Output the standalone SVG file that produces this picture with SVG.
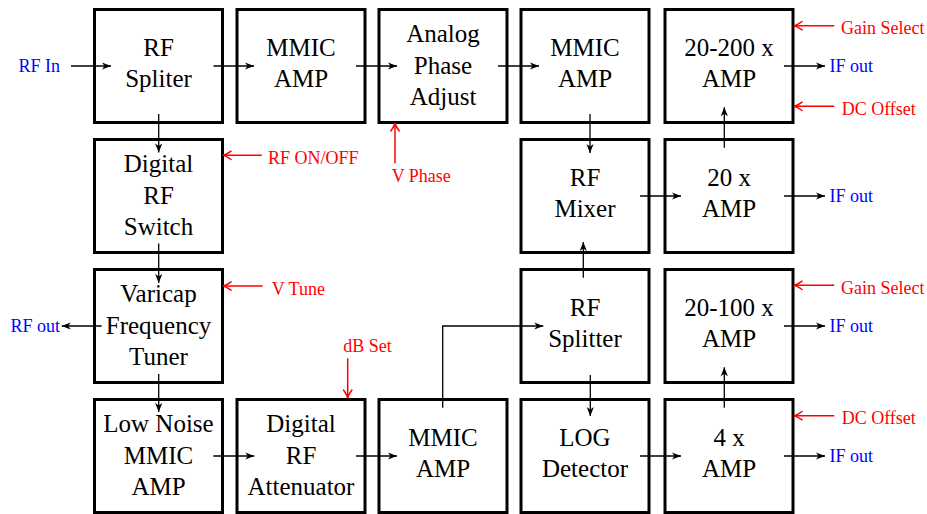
<svg xmlns="http://www.w3.org/2000/svg" width="927" height="514" viewBox="0 0 927 514">
<style>
.box{fill:#fff;stroke:#000;stroke-width:3}
.t{font-family:"Liberation Serif","Times New Roman",serif;font-size:25px;fill:#000;text-anchor:middle}
.s{font-family:"Liberation Serif","Times New Roman",serif;font-size:18px}
.b{fill:#0000ff}
.r{fill:#ff0000}
.c{fill:none;stroke:#000;stroke-width:1.3;marker-end:url(#ah)}
.rc{fill:none;stroke:#ff0000;stroke-width:1.5;marker-end:url(#rh)}
</style>
<defs>
<marker id="ah" viewBox="-10 -5 11 10" refX="0" refY="0" markerWidth="11" markerHeight="10" markerUnits="userSpaceOnUse" orient="auto">
<path d="M0,0 L-9,-3.6 L-6.5,0 L-9,3.6 Z" fill="#000"/>
</marker>
<marker id="rh" viewBox="-10 -6 11 12" refX="0" refY="0" markerWidth="11" markerHeight="12" markerUnits="userSpaceOnUse" orient="auto">
<path d="M-8,-4.2 Q-3,-0.6 0,0 Q-3,0.6 -8,4.2" fill="none" stroke="#ff0000" stroke-width="1.5" stroke-linecap="round"/>
</marker>
</defs>
<rect width="927" height="514" fill="#fff"/>

<g id="rf-spliter"><rect class="box" x="94.5" y="9.5" width="128" height="113"/><text class="t"><tspan x="158.5" y="56">RF</tspan><tspan x="158.5" y="87">Spliter</tspan></text></g>
<g id="mmic-amp-1"><rect class="box" x="237" y="9.5" width="128" height="113"/><text class="t"><tspan x="301" y="56">MMIC</tspan><tspan x="301" y="87">AMP</tspan></text></g>
<g id="analog-phase"><rect class="box" x="379" y="9.5" width="128" height="113"/><text class="t"><tspan x="443" y="42">Analog</tspan><tspan x="443" y="73.5">Phase</tspan><tspan x="443" y="105">Adjust</tspan></text></g>
<g id="mmic-amp-2"><rect class="box" x="521" y="9.5" width="128" height="113"/><text class="t"><tspan x="585" y="56">MMIC</tspan><tspan x="585" y="87">AMP</tspan></text></g>
<g id="amp-20-200"><rect class="box" x="665" y="9.5" width="128" height="113"/><text class="t"><tspan x="729" y="56">20-200 x</tspan><tspan x="729" y="87">AMP</tspan></text></g>

<g id="digital-rf-switch"><rect class="box" x="94.5" y="139.5" width="128" height="113"/><text class="t"><tspan x="158.5" y="172">Digital</tspan><tspan x="158.5" y="203.5">RF</tspan><tspan x="158.5" y="235">Switch</tspan></text></g>
<g id="rf-mixer"><rect class="box" x="521" y="139.5" width="128" height="113"/><text class="t"><tspan x="585" y="186">RF</tspan><tspan x="585" y="217">Mixer</tspan></text></g>
<g id="amp-20"><rect class="box" x="665" y="139.5" width="128" height="113"/><text class="t"><tspan x="729" y="186">20 x</tspan><tspan x="729" y="217">AMP</tspan></text></g>

<g id="varicap"><rect class="box" x="94.5" y="269.5" width="128" height="113"/><text class="t"><tspan x="158.5" y="302">Varicap</tspan><tspan x="158.5" y="333.5">Frequency</tspan><tspan x="158.5" y="365">Tuner</tspan></text></g>
<g id="rf-splitter"><rect class="box" x="521" y="269.5" width="128" height="113"/><text class="t"><tspan x="585" y="316">RF</tspan><tspan x="585" y="347">Splitter</tspan></text></g>
<g id="amp-20-100"><rect class="box" x="665" y="269.5" width="128" height="113"/><text class="t"><tspan x="729" y="316">20-100 x</tspan><tspan x="729" y="347">AMP</tspan></text></g>

<g id="lna"><rect class="box" x="94.5" y="399.5" width="128" height="113"/><text class="t"><tspan x="158.5" y="432">Low Noise</tspan><tspan x="158.5" y="463.5">MMIC</tspan><tspan x="158.5" y="495">AMP</tspan></text></g>
<g id="attenuator"><rect class="box" x="237" y="399.5" width="128" height="113"/><text class="t"><tspan x="301" y="432">Digital</tspan><tspan x="301" y="463.5">RF</tspan><tspan x="301" y="495">Attenuator</tspan></text></g>
<g id="mmic-amp-3"><rect class="box" x="379" y="399.5" width="128" height="113"/><text class="t"><tspan x="443" y="446">MMIC</tspan><tspan x="443" y="477">AMP</tspan></text></g>
<g id="log-detector"><rect class="box" x="521" y="399.5" width="128" height="113"/><text class="t"><tspan x="585" y="446">LOG</tspan><tspan x="585" y="477">Detector</tspan></text></g>
<g id="amp-4"><rect class="box" x="665" y="399.5" width="128" height="113"/><text class="t"><tspan x="729" y="446">4 x</tspan><tspan x="729" y="477">AMP</tspan></text></g>

<g id="connectors">
<path class="c" d="M71,66 H111"/>
<path class="c" d="M213.5,66 H254"/>
<path class="c" d="M356,66 H397"/>
<path class="c" d="M498,66 H539"/>
<path class="c" d="M590,114 V153"/>
<path class="c" d="M158.7,114 V152.5"/>
<path class="c" d="M158.7,243.5 V283"/>
<path class="c" d="M158.7,374 V412"/>
<path class="c" d="M101.7,326 H61.7"/>
<path class="c" d="M213.3,456 H254.3"/>
<path class="c" d="M356,456 H397"/>
<path class="c" d="M442.7,407.7 V326 H543.3"/>
<path class="c" d="M583.3,277.7 V242"/>
<path class="c" d="M590.3,375 V416"/>
<path class="c" d="M640,456 H681"/>
<path class="c" d="M640,196 H681"/>
<path class="c" d="M724.3,147.7 V107.3"/>
<path class="c" d="M724.3,407.7 V367.3"/>
<path class="c" d="M784,66 H825"/>
<path class="c" d="M784,196 H825"/>
<path class="c" d="M784,326 H825"/>
<path class="c" d="M784,456 H825"/>
<path class="rc" d="M261.7,155.3 H223"/>
<path class="rc" d="M262.7,286 H223"/>
<path class="rc" d="M395,163.3 V123"/>
<path class="rc" d="M347.7,358.3 V398"/>
<path class="rc" d="M834.3,25.7 H794"/>
<path class="rc" d="M834.3,106.3 H794"/>
<path class="rc" d="M834.3,285.3 H794"/>
<path class="rc" d="M834.3,415.7 H794"/>
</g>

<g id="labels">
<text class="s b" x="60" y="72" text-anchor="end">RF In</text>
<text class="s b" x="60" y="332" text-anchor="end">RF out</text>
<text class="s b" x="829.5" y="72">IF out</text>
<text class="s b" x="829.5" y="202">IF out</text>
<text class="s b" x="829.5" y="332">IF out</text>
<text class="s b" x="829.5" y="462">IF out</text>
<text class="s r" x="268" y="164">RF ON/OFF</text>
<text class="s r" x="271.7" y="294.5">V Tune</text>
<text class="s r" x="391.7" y="182.3">V Phase</text>
<text class="s r" x="343.3" y="352.3">dB Set</text>
<text class="s r" x="841" y="34.3">Gain Select</text>
<text class="s r" x="841.7" y="114.8">DC Offset</text>
<text class="s r" x="841" y="294">Gain Select</text>
<text class="s r" x="841.7" y="424.3">DC Offset</text>
</g>
</svg>
